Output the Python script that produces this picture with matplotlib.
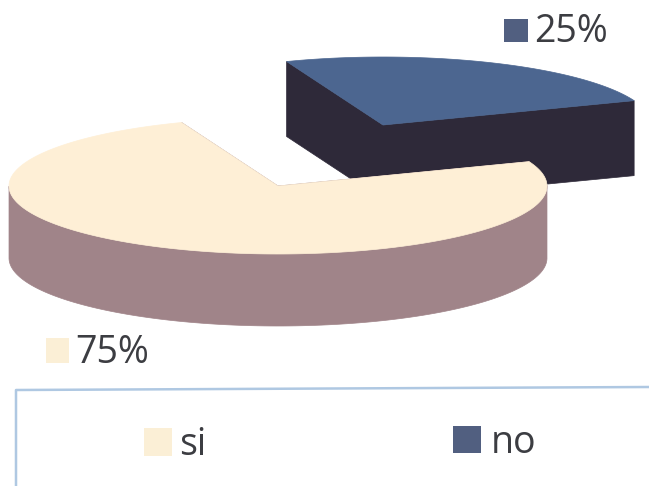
import numpy as np
import matplotlib
matplotlib.use("Agg")
import matplotlib.pyplot as plt
from matplotlib.patches import Polygon, Rectangle

labels = ["si", "no"]
values = [75, 25]
pct_labels = ["75%", "25%"]
top_colors = ["#FEEFD6", "#4C6690"]
side_colors = ["#A08489", "#2E2939"]
swatch_colors = ["#FBEFD6", "#515F80"]

plt.rcParams['font.family'] = ['Open Sans', 'DejaVu Sans']
fig = plt.figure(figsize=(6.49, 4.86), dpi=100)
ax = fig.add_axes([0, 0, 1, 1])
ax.set_xlim(0, 649); ax.set_ylim(486, 0); ax.axis("off")

RX, RY = 269, 68
START = 111
def pt(c, t):
    return np.array([c[0] + RX*np.cos(t), c[1] - RY*np.sin(t)])

def wedge(center, a0, a1, depth, top, side, z):
    ts = np.radians(np.linspace(a0, a1, 200))
    arc = np.array([pt(center, t) for t in ts])
    c = np.array(center, float)
    d = np.array([0, depth])
    for p in (arc[0], arc[-1]):
        ax.add_patch(Polygon([c, p, p+d, c+d], fc=side, ec=side, lw=0.5, zorder=z))
    vis = np.sin(ts) <= 0.02
    if vis.any():
        a = arc[vis]
        ax.add_patch(Polygon(np.vstack([a, (a+d)[::-1]]), fc=side, ec=side, lw=0.5, zorder=z+1))
    ax.add_patch(Polygon(np.vstack([c, arc]), fc=top, ec=top, lw=0.5, zorder=z+2))

sweep = [v/sum(values)*360 for v in values]
wedge((383, 125), START - sweep[1], START, 75, top_colors[1], side_colors[1], 1)
wedge((278, 186), START, START + sweep[0], 72, top_colors[0], side_colors[0], 5)

fs = 27
txt = "#3C3D42"
ax.add_patch(Rectangle((504, 19), 24, 23, fc=swatch_colors[1], ec="none"))
ax.text(534, 42, pct_labels[1], fontsize=fs, color=txt, va="baseline", ha="left")
ax.add_patch(Rectangle((46, 338), 23, 25, fc=swatch_colors[0], ec="none"))
ax.text(75, 363, pct_labels[0], fontsize=fs, color=txt, va="baseline", ha="left")

ax.plot([649, 16, 16], [387, 390, 486], color="#AFC8E2", lw=1.8)
ax.add_patch(Rectangle((144, 428), 28, 28, fc=swatch_colors[0], ec="none"))
ax.text(179, 455, labels[0], fontsize=fs, color=txt, va="baseline", ha="left")
ax.add_patch(Rectangle((453, 426), 28, 27, fc=swatch_colors[1], ec="none"))
ax.text(491, 453, labels[1], fontsize=fs, color=txt, va="baseline", ha="left")

fig.savefig("out.png", dpi=100)
